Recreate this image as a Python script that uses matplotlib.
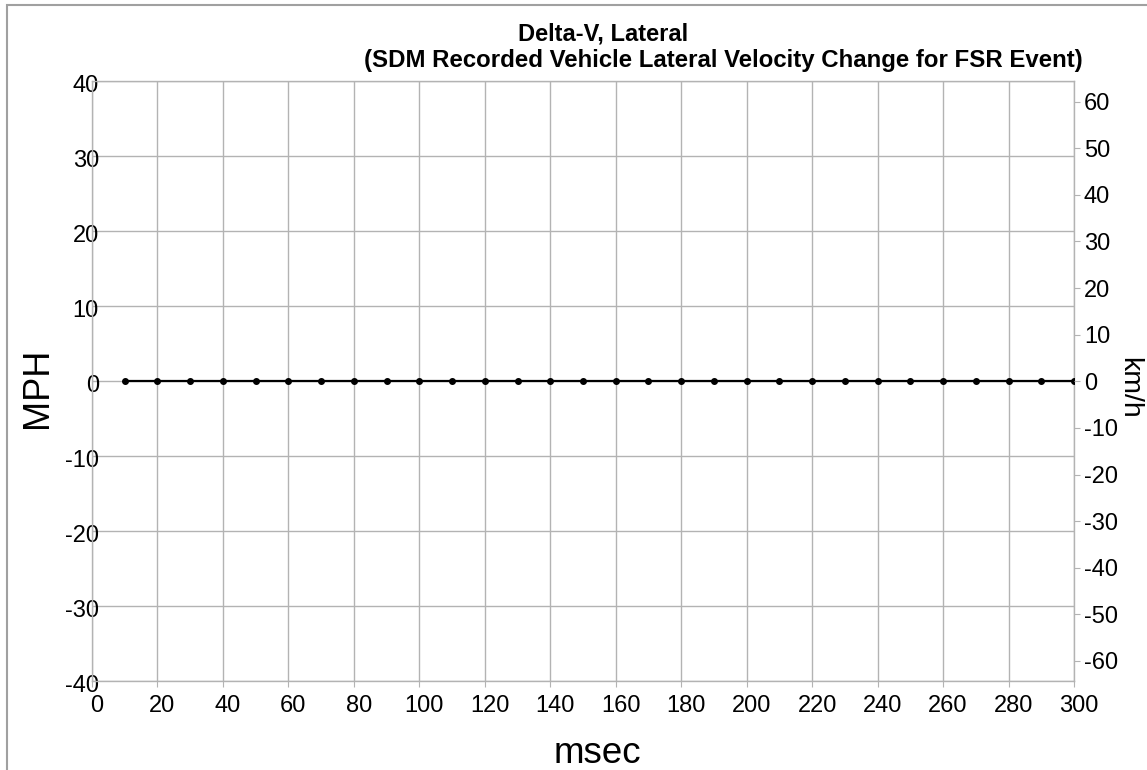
import matplotlib
matplotlib.use("Agg")
import matplotlib.pyplot as plt
import matplotlib.transforms as mtransforms
from matplotlib.patches import Rectangle

plt.rcParams['font.family'] = ['Liberation Sans', 'DejaVu Sans']
plt.rcParams['axes.unicode_minus'] = False

time_ms = [10, 20, 30, 40, 50, 60, 70, 80, 90, 100, 110, 120, 130, 140, 150,
           160, 170, 180, 190, 200, 210, 220, 230, 240, 250, 260, 270, 280, 290, 300]
delta_v_mph = [0, 0, 0, 0, 0, 0, 0, 0, 0, 0, 0, 0, 0, 0, 0,
               0, 0, 0, 0, 0, 0, 0, 0, 0, 0, 0, 0, 0, 0, 0]
x_ticks = list(range(0, 301, 20))
y_ticks_mph = list(range(-40, 41, 10))
y_ticks_kmh = list(range(-60, 61, 10))

MPH_TO_KMH = 1.609344
grid_c = '#b3b3b3'

fig = plt.figure(figsize=(11.47, 7.70), dpi=100)
ax = fig.add_axes([0.0802, 0.1152, 0.8562, 0.7792])

ax.plot(time_ms, delta_v_mph, color='black', lw=1.6, marker='o', ms=4, zorder=3)

ax.set_xlim(0, 300)
ax.set_ylim(-40, 40)
ax.set_xticks(x_ticks)
ax.set_yticks(y_ticks_mph)
ax.grid(True, color=grid_c, lw=1)
for s in ax.spines.values():
    s.set_color(grid_c)
    s.set_linewidth(1)

ax.tick_params(axis='y', length=0, pad=-5, labelsize=17, colors='black')
ax.tick_params(axis='x', length=4, color=grid_c, pad=6, labelsize=17, labelcolor='black')
offset = mtransforms.ScaledTranslation(5/100, 0, fig.dpi_scale_trans)
for lbl in ax.get_xticklabels():
    lbl.set_transform(lbl.get_transform() + offset)
voff = mtransforms.ScaledTranslation(0, -2/100, fig.dpi_scale_trans)
for lbl in ax.get_yticklabels():
    lbl.set_transform(lbl.get_transform() + voff)

ax2 = ax.twinx()
ax2.set_ylim(-40 * MPH_TO_KMH, 40 * MPH_TO_KMH)
ax2.set_yticks(y_ticks_kmh)
ax2.tick_params(axis='y', length=4, color=grid_c, pad=3, labelsize=17, labelcolor='black')
for s in ax2.spines.values():
    s.set_visible(False)

fig.text(0.033, 0.496, 'MPH', rotation=90, fontsize=26, ha='center', va='center')
fig.text(0.521, 0.0208, 'msec', fontsize=26.5, ha='center', va='center')
fig.text(0.9845, 0.496, 'km/h', rotation=-90, fontsize=20.5, ha='center', va='center')

fig.text(603/1147, 1 - 40/770, 'Delta-V, Lateral', fontsize=17, fontweight='bold',
         ha='center', va='baseline')
fig.text(723/1147, 1 - 66.7/770, '(SDM Recorded Vehicle Lateral Velocity Change for FSR Event)',
         fontsize=17.3, fontweight='bold', ha='center', va='baseline')

fig.patches.append(Rectangle((7.3/1147, -0.05), 1.1, 1.05 - 4.7/770,
                             transform=fig.transFigure, fill=False,
                             edgecolor='#a0a0a0', lw=1.5))

fig.savefig('out.png', dpi=100)
